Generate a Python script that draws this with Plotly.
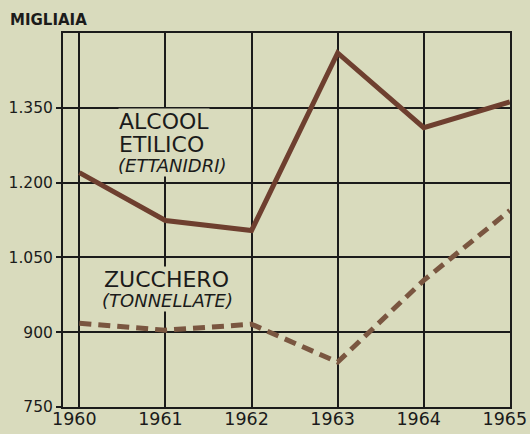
import plotly.graph_objects as go

# Production (thousands)
anni = [1960, 1961, 1962, 1963, 1964, 1965]
alcool_etilico = [1220, 1124, 1104, 1460, 1310, 1362]
zucchero = [918, 904, 916, 840, 1004, 1144]
y_ticks = [750, 900, 1050, 1200, 1350]

BG = "#d9dbbd"
INK = "#1b1b1b"
FONT = "DejaVu Sans"

fig = go.Figure()

fig.add_trace(go.Scatter(
    x=anni, y=alcool_etilico, mode="lines",
    line=dict(color="#6e3f2f", width=5),
    hoverinfo="skip", showlegend=False,
))
fig.add_trace(go.Scatter(
    x=anni, y=zucchero, mode="lines",
    line=dict(color="#7a5640", width=5, dash="12px,7px"),
    hoverinfo="skip", showlegend=False,
))

# labels for the two series (background hides the grid behind them)
labels = [
    ("ALCOOL", 1960.45, 1322, 22, False),
    ("ETILICO", 1960.45, 1276, 22, False),
    ("(ETTANIDRI)", 1960.44, 1234, 18, True),
    ("ZUCCHERO", 1960.27, 1006, 22, False),
    ("(TONNELLATE)", 1960.25, 964, 18, True),
]
for text, x, y, size, ital in labels:
    fig.add_annotation(
        x=x, y=y, xref="x", yref="y", text=f"<i>{text}</i>" if ital else text,
        showarrow=False, xanchor="left", yanchor="middle",
        font=dict(family=FONT, size=size, color=INK),
        bgcolor=BG, borderpad=0,
    )

# unit caption above the y axis
fig.add_annotation(
    x=-55 / 447, y=1 + 13 / 374, xref="paper", yref="paper",
    text="<b>MIGLIAIA</b>",
    showarrow=False, xanchor="left", yanchor="middle",
    font=dict(family=FONT, size=15, color=INK),
)

fig.update_layout(
    width=530, height=434,
    margin=dict(l=63, r=20, t=33, b=27),
    paper_bgcolor=BG, plot_bgcolor=BG,
    separators=",.",
    xaxis=dict(
        range=[1959.81, 1965.002], tickvals=anni, automargin=False,
        showgrid=True, gridcolor=INK, gridwidth=1.5,
        showline=True, linecolor=INK, linewidth=2, mirror=True,
        zeroline=False, ticks="", ticklen=0,
        ticklabelstandoff=-5, ticklabelshift=-5, ticklabeloverflow="allow",
        tickfont=dict(family=FONT, size=17.5, color=INK),
    ),
    yaxis=dict(
        range=[750, 1500], tickvals=y_ticks, tickformat=",d", automargin=False,
        showgrid=True, gridcolor=INK, gridwidth=1.5,
        showline=True, linecolor=INK, linewidth=2, mirror=True,
        zeroline=False, ticks="outside", ticklen=5, tickcolor=INK, tickwidth=1.5,
        tickfont=dict(family=FONT, size=15.5, color=INK),
    ),
)

fig.write_html("out.html")
